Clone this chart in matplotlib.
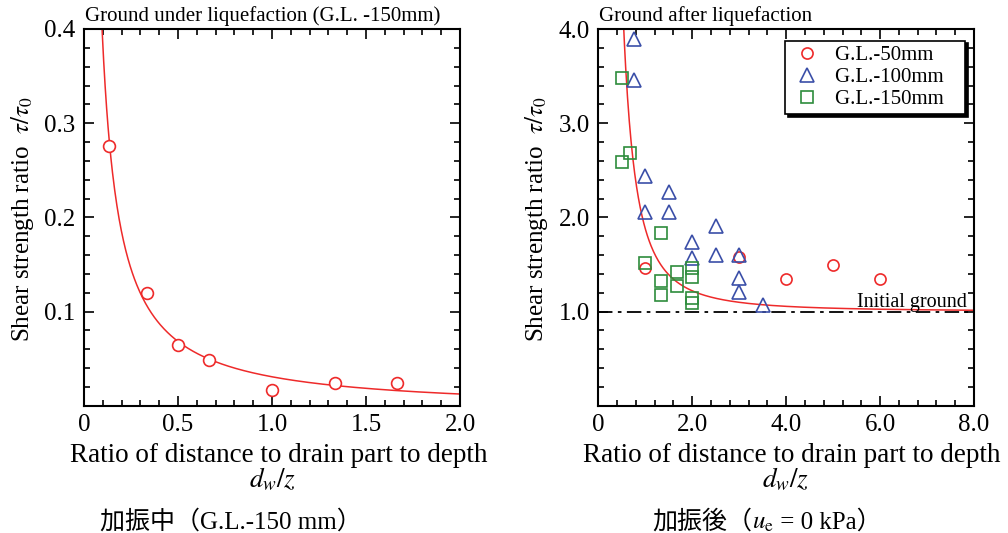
import numpy as np
import matplotlib.pyplot as plt
from matplotlib.ticker import MultipleLocator, FixedLocator

plt.rcParams['font.family'] = ['Liberation Serif', 'Noto Sans CJK JP']
plt.rcParams['mathtext.fontset'] = 'stix'

# left panel: during shaking, G.L.-150mm
dz_during = [0.133, 0.333, 0.5, 0.667, 1.0, 1.333, 1.667]
ratio_during = [0.276, 0.120, 0.0645, 0.048, 0.0167, 0.0245, 0.0245]
fit_during = (0.0357, -1.037, -0.005)   # y = a * x**b + c

# right panel: after shaking
dz_50 = [1.0, 3.0, 4.0, 5.0, 6.0]
ratio_50 = [1.46, 1.58, 1.35, 1.49, 1.35]
dz_100 = [0.75, 0.75, 1.0, 1.0, 1.5, 1.5, 2.0, 2.0, 2.5, 2.5, 3.0, 3.0, 3.0, 3.5]
ratio_100 = [3.89, 3.46, 2.44, 2.06, 2.27, 2.06, 1.74, 1.57, 1.91, 1.60, 1.60, 1.355, 1.21, 1.07]
dz_150 = [0.5, 0.5, 0.667, 1.0, 1.333, 1.333, 1.333, 1.667, 1.667, 2.0, 2.0, 2.0, 2.0]
ratio_150 = [3.48, 2.59, 2.68, 1.51, 1.83, 1.32, 1.18, 1.415, 1.27, 1.46, 1.37, 1.14, 1.09]
fit_after = (0.88, -2.0, 1.0)

RED = '#ee2a2a'
BLUE = '#3b4fa8'
GREEN = '#2e8c3c'

W, H = 1008, 533
fig = plt.figure(figsize=(W / 100, H / 100), dpi=100)
ax1 = fig.add_axes([84 / W, 1 - 405.7 / H, 376 / W, 376.7 / H])
ax2 = fig.add_axes([598.3 / W, 1 - 405.7 / H, 375.7 / W, 376.7 / H])


def style(ax):
    for s in ax.spines.values():
        s.set_linewidth(1.5)
    ax.tick_params(which='both', direction='in', top=True, right=True,
                   labelsize=18, width=1.2, pad=6)
    ax.tick_params(which='major', length=7)
    ax.tick_params(which='minor', length=4)


# ---- left
a, b, c = fit_during
xs = np.linspace(0.05, 2.0, 500)
ax1.plot(xs, a * xs ** b + c, color=RED, lw=1.1)
ax1.plot(dz_during, ratio_during, 'o', ms=8.5, mfc='white', mec=RED, mew=1.2)
ax1.set_xlim(0, 2.0)
ax1.set_ylim(0, 0.4)
ax1.xaxis.set_major_locator(FixedLocator([0, 0.5, 1.0, 1.5, 2.0]))
ax1.set_xticklabels(['0', '0.5', '1.0', '1.5', '2.0'])
ax1.xaxis.set_minor_locator(MultipleLocator(0.1))
ax1.yaxis.set_major_locator(FixedLocator([0.1, 0.2, 0.3, 0.4]))
ax1.set_yticklabels(['0.1', '0.2', '0.3', '0.4'])
ax1.yaxis.set_minor_locator(MultipleLocator(0.02))
style(ax1)
ax1.text(0.003, 1.008, 'Ground under liquefaction (G.L. -150mm)', transform=ax1.transAxes,
         fontsize=15, ha='left', va='bottom')

# ---- right
a, b, c = fit_after
xs = np.linspace(0.3, 8.0, 600)
ax2.plot(xs, a * xs ** b + c, color=RED, lw=1.1, zorder=2)
ax2.axhline(1.0, color='black', lw=1.3, ls=(0, (8, 3, 2, 3)), zorder=1)
ax2.plot(dz_50, ratio_50, 'o', ms=8, mfc='none', mec=RED, mew=1.2, label='G.L.-50mm   ')
ax2.plot(dz_100, ratio_100, '^', ms=9.5, mfc='none', mec=BLUE, mew=1.2, label='G.L.-100mm   ')
ax2.plot(dz_150, ratio_150, 's', ms=8, mfc='none', mec=GREEN, mew=1.2, label='G.L.-150mm   ')
ax2.set_xlim(0, 8.0)
ax2.set_ylim(0, 4.0)
ax2.xaxis.set_major_locator(FixedLocator([0, 2, 4, 6, 8]))
ax2.set_xticklabels(['0', '2.0', '4.0', '6.0', '8.0'])
ax2.xaxis.set_minor_locator(MultipleLocator(0.4))
ax2.yaxis.set_major_locator(FixedLocator([1, 2, 3, 4]))
ax2.set_yticklabels(['1.0', '2.0', '3.0', '4.0'])
ax2.yaxis.set_minor_locator(MultipleLocator(0.2))
style(ax2)
ax2.text(0.003, 1.008, 'Ground after liquefaction', transform=ax2.transAxes,
         fontsize=15, ha='left', va='bottom')
ax2.text(7.84, 1.053, 'Initial ground', fontsize=14.5, ha='right', va='baseline')
leg = ax2.legend(loc='upper right', bbox_to_anchor=(1 - 9 / 375.7, 1 - 11.7 / 376.7),
                 borderaxespad=0, fontsize=15, fancybox=False, edgecolor='black',
                 framealpha=1, shadow={'color': 'black', 'alpha': 1},
                 handletextpad=0.55, labelspacing=0.1, borderpad=0.25, handlelength=1.6)
leg.get_frame().set_linewidth(1.2)

# ---- axis labels (positions in pixels)
def ftext(x, y, s, **kw):
    return fig.text(x / W, 1 - y / H, s, **kw)


ylab = r'Shear strength ratio  $\tau/\tau_0$'
ftext(23, 219, ylab, rotation=90, fontsize=18, ha='center', va='center')
ftext(537, 219, ylab, rotation=90, fontsize=18, ha='center', va='center')

xlab = 'Ratio of distance to drain part to depth'
ftext(278.5, 461.7, xlab, fontsize=19.5, ha='center', va='baseline')
ftext(792, 461.7, xlab, fontsize=19.5, ha='center', va='baseline')
ftext(272.5, 487, r'$d_w/z$', fontsize=19.5, ha='center', va='baseline')
ftext(786, 487, r'$d_w/z$', fontsize=19.5, ha='center', va='baseline')

# captions
ftext(100, 529, '加振中（G.L.-150 mm）', fontsize=18, ha='left', va='baseline')

fig.canvas.draw()
r = fig.canvas.get_renderer()
x = 652
for piece in ['加振後（', r'$u_\mathrm{e}$', ' = 0 kPa）']:
    t = ftext(x, 529, piece, fontsize=18, ha='left', va='baseline')
    x = t.get_window_extent(renderer=r).x1

fig.savefig('out.png', dpi=100)
